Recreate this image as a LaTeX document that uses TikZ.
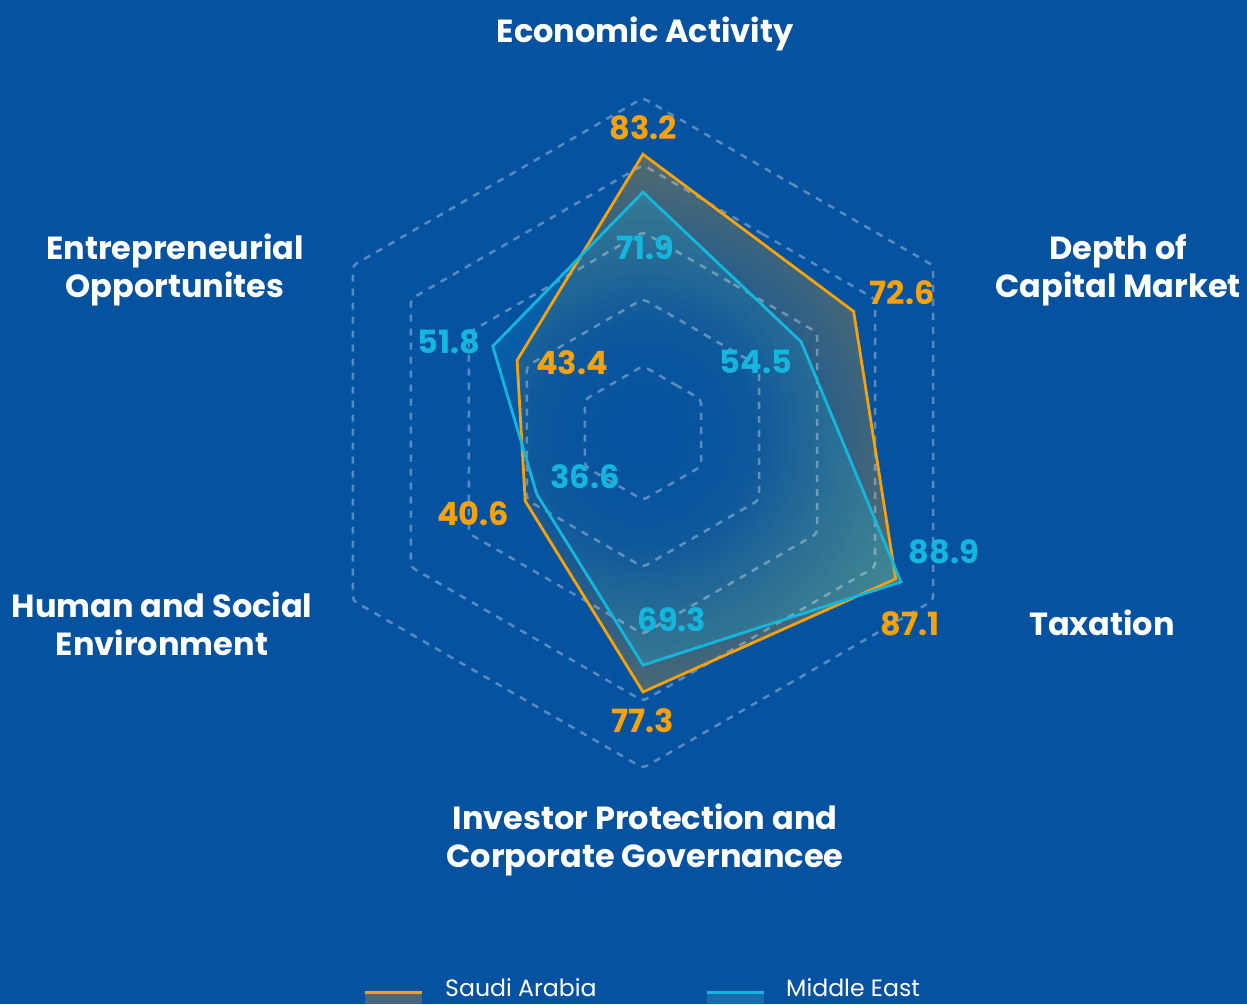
\documentclass[tikz,border=0pt]{standalone}
\usepackage{fontspec}
\setmainfont{Poppins}
\usetikzlibrary{fadings,calc}
\definecolor{bg}{RGB}{5,82,160}
\definecolor{sa}{RGB}{245,162,12}
\definecolor{me}{RGB}{20,182,222}
\definecolor{salg}{RGB}{72,102,132}
\definecolor{melg}{RGB}{22,108,172}
\pgfdeclareradialshading{rfadeshade}{\pgfpointorigin}{color(0bp)=(transparent!100); color(16bp)=(transparent!97); color(50bp)=(transparent!58)}
\pgfdeclarefading{rfade}{\pgfuseshading{rfadeshade}}
\begin{document}
\begin{tikzpicture}[x=1pt,y=-1pt,
  gridline/.style={draw=white, draw opacity=0.33, line width=2.5pt, dash pattern=on 7pt off 7pt, rounded corners=4pt},
  saline/.style={draw=sa, line width=2.8pt},
  meline/.style={draw=me, line width=2.8pt},
  areafade/.style={path fading=rfade, fit fading=false, fading transform={shift={(643,433)}, scale=6.6}},
  axlabel/.style={text=white, font=\bfseries\fontsize{32}{38.5}\selectfont, align=center, inner sep=0pt},
  valsa/.style={text=sa, font=\bfseries\fontsize{32}{33}\selectfont, inner sep=0pt},
  valme/.style={text=me, font=\bfseries\fontsize{32}{33}\selectfont, inner sep=0pt},
  legtext/.style={text=white, font=\fontsize{23.6}{25}\selectfont, anchor=base west, inner sep=0pt}
]
\fill[bg] (0,0) rectangle (1247,1004);
\useasboundingbox (0,0) rectangle (1247,1004);
\coordinate (c) at (643,433);
\begin{scope}[shift={(643,433)}, yscale=-1]
  \coordinate (s1) at (90:{3.35*83.2});
  \coordinate (s2) at (30:{3.35*72.6});
  \coordinate (s3) at (-30:{3.35*87.1});
  \coordinate (s4) at (-90:{3.35*77.3});
  \coordinate (s5) at (-150:{3.35*40.6});
  \coordinate (s6) at (150:{3.35*43.4});
  \coordinate (m1) at (90:{3.35*71.9});
  \coordinate (m2) at (30:{3.35*54.5});
  \coordinate (m3) at (-30:{3.35*88.9});
  \coordinate (m4) at (-90:{3.35*69.3});
  \coordinate (m5) at (-150:{3.35*36.6});
  \coordinate (m6) at (150:{3.35*51.8});
\end{scope}
\fill[sa, areafade] (s1) -- (s2) -- (s3) -- (s4) -- (s5) -- (s6) -- cycle;
\fill[me, areafade] (m1) -- (m2) -- (m3) -- (m4) -- (m5) -- (m6) -- cycle;
\begin{scope}[shift={(643,433)}, yscale=-1]
  \foreach \k in {1,...,5} {
    \draw[gridline] ($(90:67*\k)!0.5!(30:67*\k)$) -- (30:67*\k) -- (-30:67*\k) -- (-90:67*\k) -- (-150:67*\k) -- (150:67*\k) -- (90:67*\k) -- cycle;
  }
\end{scope}
\draw[saline] (s1) -- (s2) -- (s3) -- (s4) -- (s5) -- (s6) -- cycle;
\draw[meline] (m1) -- (m2) -- (m3) -- (m4) -- (m5) -- (m6) -- cycle;
% axis labels
\node[axlabel] (ea) at (645,34) {Economic Activity};
\node[axlabel] (dc) at (1118,270) {Depth of\\Capital Market};
\node[axlabel] (tx) at (1102,623) {Taxation};
\node[axlabel] (ip) at (645,840) {Investor Protection and\\Corporate Governancee};
\node[axlabel] (hs) at (162,624) {Human and Social\\Environment};
\node[axlabel] (eo) at (175,270) {Entrepreneurial\\Opportunites};
% values
\node[valsa] (v1) at (643,128) {83.2};
\node[valme] (v2) at (645,248) {71.9};
\node[valsa] (v3) at (902,293) {72.6};
\node[valme] (v4) at (756,362) {54.5};
\node[valme] (v5) at (944,552) {88.9};
\node[valsa] (v6) at (910,624) {87.1};
\node[valsa] (v7) at (643,721) {77.3};
\node[valme] (v8) at (672,620) {69.3};
\node[valsa] (v9) at (473,514) {40.6};
\node[valme] (v10) at (585,477) {36.6};
\node[valme] (v11) at (449,342) {51.8};
\node[valsa] (v12) at (572,363) {43.4};
% legend
\coordinate (la1) at (365,992.5);
\coordinate (la2) at (422,992.5);
\coordinate (lb1) at (707,992.5);
\coordinate (lb2) at (764,992.5);
\fill[salg] (365,993) rectangle (422,1004);
\fill[melg] (707,993) rectangle (764,1004);
\draw[sa, line width=3pt] (la1) -- (la2);
\draw[me, line width=3pt] (lb1) -- (lb2);
\node[legtext] (lt1) at (445,996) {Saudi Arabia};
\node[legtext] (lt2) at (786,996) {Middle East};
\end{tikzpicture}
\end{document}
